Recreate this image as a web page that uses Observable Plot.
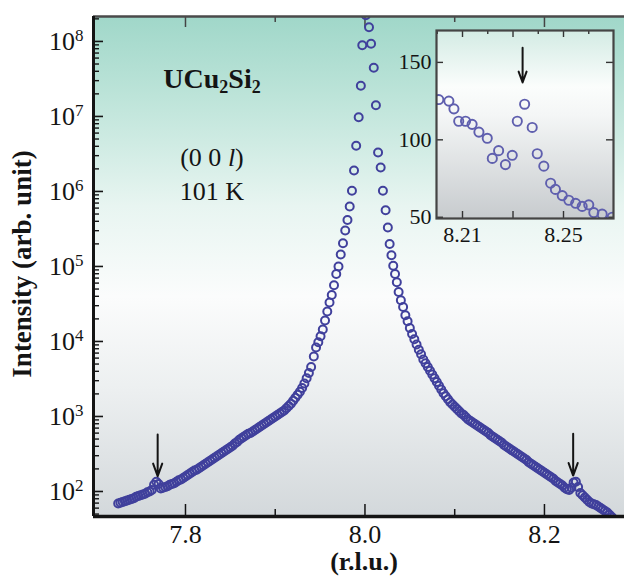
<!DOCTYPE html>
<html><head><meta charset="utf-8">
<script src="https://cdn.jsdelivr.net/npm/d3@7"></script>
<script src="https://cdn.jsdelivr.net/npm/@observablehq/plot@0.6"></script>
<style>
html,body{margin:0;padding:0;background:#fff;}
#chart{position:relative;width:624px;height:577px;overflow:hidden;}
#chart svg{position:absolute;}
</style></head><body><div id="chart"></div>
<script>
// ---- main scan: positions (r.l.u.) and log10 of intensity ----
const mainH = [
7.7250,7.7275,7.7300,7.7325,7.7350,7.7375,7.7400,7.7425,7.7450,7.7475,7.7500,7.7525,7.7550,7.7575,7.7600,7.7625,7.7650,7.7675,7.7700,7.7725,
7.7750,7.7775,7.7800,7.7825,7.7850,7.7875,7.7900,7.7925,7.7950,7.7975,7.8000,7.8025,7.8050,7.8075,7.8100,7.8125,7.8150,7.8175,7.8200,7.8225,
7.8250,7.8275,7.8300,7.8325,7.8350,7.8375,7.8400,7.8425,7.8450,7.8475,7.8500,7.8525,7.8550,7.8575,7.8600,7.8625,7.8650,7.8675,7.8700,7.8725,
7.8750,7.8775,7.8800,7.8825,7.8850,7.8875,7.8900,7.8925,7.8950,7.8975,7.9000,7.9025,7.9050,7.9075,7.9100,7.9125,7.9150,7.9175,7.9200,7.9225,
7.9250,7.9275,7.9300,7.9325,7.9350,7.9375,7.9400,
7.9430,7.9455,7.9480,7.9505,7.9530,7.9555,7.9580,7.9605,7.9630,7.9655,7.9680,7.9705,7.9730,7.9755,7.9780,7.9805,7.9830,7.9855,7.9878,7.9902,
7.9930,7.9954,7.9970,8.0010,
8.0045,8.0068,8.0098,8.0122,8.0146,8.0175,8.0200,8.0230,8.0255,8.0275,8.0295,8.0315,8.0335,8.0355,8.0375,
8.0400,8.0425,8.0450,8.0475,8.0500,8.0525,8.0550,8.0575,8.0600,8.0625,8.0650,8.0675,8.0700,8.0725,8.0750,8.0775,8.0800,8.0825,8.0850,8.0875,
8.0900,8.0925,8.0950,8.0975,8.1000,8.1025,8.1050,8.1075,8.1100,8.1125,8.1150,8.1175,8.1200,8.1225,8.1250,8.1275,8.1300,8.1325,8.1350,8.1375,
8.1400,8.1425,8.1450,8.1475,8.1500,8.1525,8.1550,8.1575,8.1600,8.1625,8.1650,8.1675,8.1700,8.1725,8.1750,8.1775,8.1800,8.1825,8.1850,8.1875,
8.1900,8.1925,8.1950,8.1975,8.2000,8.2025,8.2050,8.2075,8.2100,8.2125,8.2150,8.2175,8.2200,8.2225,8.2250,8.2275,8.2300,8.2325,8.2350,8.2375,
8.2400,8.2425,8.2450,8.2475,8.2500,8.2525,8.2550,8.2575,8.2600,8.2625,8.2650,8.2675,8.2700,8.2725,8.2750,8.2775
];
const mainLogI = [
1.84,1.85,1.86,1.87,1.88,1.89,1.90,1.91,1.93,1.94,1.95,1.96,1.97,1.99,2.00,2.02,2.09,2.13,2.10,2.04,
2.05,2.06,2.07,2.09,2.10,2.11,2.13,2.15,2.16,2.18,2.20,2.22,2.24,2.26,2.28,2.29,2.31,2.33,2.35,2.37,
2.39,2.41,2.43,2.45,2.47,2.49,2.51,2.53,2.55,2.57,2.59,2.61,2.64,2.66,2.69,2.71,2.73,2.75,2.77,2.78,
2.80,2.82,2.84,2.86,2.88,2.90,2.92,2.94,2.96,2.98,3.00,3.02,3.04,3.06,3.08,3.11,3.14,3.17,3.21,3.25,
3.29,3.33,3.38,3.44,3.51,3.58,3.66,
3.80,3.92,3.99,4.07,4.16,4.28,4.40,4.52,4.62,4.75,4.90,5.00,5.16,5.31,5.48,5.62,5.80,6.01,6.28,6.61,
6.99,7.41,7.95,8.35,
8.19,7.97,7.65,7.15,6.52,6.32,6.01,5.75,5.52,5.30,5.15,5.01,4.90,4.79,4.66,
4.55,4.46,4.35,4.27,4.18,4.10,4.03,3.96,3.89,3.83,3.76,3.71,3.66,3.61,3.56,3.51,3.46,3.41,3.36,3.31,
3.27,3.23,3.19,3.16,3.13,3.10,3.07,3.04,3.02,2.99,2.96,2.94,2.92,2.90,2.88,2.86,2.84,2.82,2.80,2.78,
2.75,2.73,2.71,2.69,2.67,2.65,2.62,2.60,2.58,2.56,2.54,2.52,2.50,2.48,2.46,2.44,2.42,2.39,2.37,2.35,
2.33,2.31,2.29,2.27,2.25,2.23,2.21,2.19,2.17,2.14,2.12,2.10,2.08,2.05,2.03,2.02,2.05,2.12,2.13,2.06,
1.98,1.95,1.92,1.89,1.86,1.84,1.83,1.82,1.80,1.78,1.76,1.74,1.72,1.69,1.66,1.63
];

// ---- inset scan (linear intensity) ----
const insetH = [8.2006,8.2046,8.2066,8.2085,8.2112,8.2138,8.2165,8.2198,8.2218,8.2243,8.2270,8.2297,8.2317,8.2346,
8.2376,8.2396,8.2422,8.2449,8.2468,8.2495,8.2521,8.2548,8.2574,8.2600,8.2620,8.2653,8.2693];
const insetI = [126,125,120,112,112,110,105,101,88,93,84,90,112,123,108,91,83,72,68,64,61,59,57,58,53,52,50];

// ---- axes / ticks ----
const xDomain = [7.6975, 8.2892];
const yDomain = [46.4, 2.15e8];
const xTickLabels = [7.8, 8.0, 8.2];
const xMinorTicks = [7.9, 8.1];
const yDecades = [1e2, 1e3, 1e4, 1e5, 1e6, 1e7, 1e8];
const insetXDomain = [8.1997, 8.2698];
const insetYDomain = [49.2, 170.6];
const insetXTickLabels = [8.21, 8.25];
const insetXMajor = [8.21, 8.23, 8.25];
const insetXMinor = [8.20, 8.22, 8.24, 8.26];
const insetYTickLabels = [50, 100, 150];

// ---- arrows marking the weak peaks ----
const arrowH = [7.769, 8.232];
const arrowTail = [575, 590];
const arrowTip = [160, 163];
const insetArrowH = [8.2338];
const insetArrowTail = [159.5];
const insetArrowTip = [137];

const serif = '"Liberation Serif","Times New Roman",serif';
const ink = "#141414";

const yMinor = [];
for (let e = 1; e <= 8; e++) for (let m = 2; m <= 9; m++) {
  const v = m * 10 ** e;
  if (v >= yDomain[0] && v <= yDomain[1]) yMinor.push(v);
}

const mainData = mainH.map((h, i) => ({h, I: 10 ** mainLogI[i]}));
const insetData = insetH.map((h, i) => ({h, I: insetI[i]}));
const arrows = arrowH.map((h, i) => ({h, a: arrowTail[i], b: arrowTip[i]}));
const insetArrows = insetArrowH.map((h, i) => ({h, a: insetArrowTail[i], b: insetArrowTip[i]}));

const W = 624, H = 577, mL = 93, mR = 0, mT = 16, mB = 61;
const fw = W - mL - mR, fh = H - mT - mB;

const main = Plot.plot({
  width: W, height: H, marginLeft: mL, marginRight: mR, marginTop: mT, marginBottom: mB,
  style: {background: "transparent", fontFamily: serif, fontSize: "26px", color: ink},
  x: {domain: xDomain, ticks: xTickLabels, tickSize: 0, tickPadding: 8, tickFormat: ".1f", label: null},
  y: {type: "log", domain: yDomain, ticks: yDecades, tickSize: 0, tickPadding: 10,
      tickFormat: d => "10^" + Math.round(Math.log10(d)), label: null},
  marks: [
    Plot.frame({fill: "url(#mainBg)", stroke: null}),
    Plot.tickX(xTickLabels, {x: d => d, insetTop: fh - 12, stroke: ink, strokeWidth: 1.5}),
    Plot.tickX(xMinorTicks, {x: d => d, insetTop: fh - 7, stroke: ink, strokeWidth: 1.5}),
    Plot.tickX(xTickLabels, {x: d => d, insetBottom: fh - 11, stroke: "#444", strokeWidth: 1.5}),
    Plot.tickX(xMinorTicks, {x: d => d, insetBottom: fh - 6, stroke: "#444", strokeWidth: 1.5}),
    Plot.tickY(yDecades, {y: d => d, insetRight: fw - 10, stroke: ink, strokeWidth: 1.6}),
    Plot.tickY(yMinor, {y: d => d, insetRight: fw - 6, stroke: ink, strokeWidth: 1.4}),
    Plot.dot(mainData, {x: "h", y: "I", r: 4, stroke: "#40409c", strokeWidth: 2, fill: "none", clip: true}),
    Plot.ruleY([yDomain[1]], {stroke: "#4a4a4a", strokeWidth: 2.5}),
    Plot.ruleX([xDomain[0]], {stroke: ink, strokeWidth: 3}),
    Plot.ruleY([yDomain[0]], {stroke: ink, strokeWidth: 3.5}),
    Plot.arrow(arrows, {x: "h", y1: "a", y2: "b", stroke: ink, strokeWidth: 2, headLength: 10, headAngle: 40})
  ]
});

const inset = Plot.plot({
  width: 232, height: 225, marginLeft: 44, marginRight: 11, marginTop: 5, marginBottom: 32,
  style: {background: "transparent", fontFamily: serif, fontSize: "22px", color: ink},
  x: {domain: insetXDomain, ticks: insetXTickLabels, tickSize: 0, tickPadding: 8, tickFormat: ".2f", label: null},
  y: {domain: insetYDomain, ticks: insetYTickLabels, tickSize: 0, tickPadding: 5, label: null},
  marks: [
    Plot.frame({fill: "url(#insetBg)", stroke: null}),
    Plot.tickX(insetXMajor, {x: d => d, insetTop: 188 - 7, stroke: "#333", strokeWidth: 1.4}),
    Plot.tickX(insetXMajor, {x: d => d, insetBottom: 188 - 7, stroke: "#333", strokeWidth: 1.4}),
    Plot.tickX(insetXMinor, {x: d => d, insetBottom: 188 - 4, stroke: "#333", strokeWidth: 1.4}),
    Plot.tickY(insetYTickLabels, {y: d => d, insetRight: 177 - 7, stroke: "#333", strokeWidth: 1.4}),
    Plot.tickY(insetYTickLabels, {y: d => d, insetLeft: 177 - 7, stroke: "#333", strokeWidth: 1.4}),
    Plot.dot(insetData, {x: "h", y: "I", r: 4.6, stroke: "#5f5fae", strokeWidth: 1.9, fill: "none", clip: true}),
    Plot.frame({stroke: "#444", strokeWidth: 2.2}),
    Plot.arrow(insetArrows, {x: "h", y1: "a", y2: "b", stroke: ink, strokeWidth: 2, headLength: 9, headAngle: 40})
  ]
});

const NS = "http://www.w3.org/2000/svg";
function el(tag, attrs, parent) {
  const e = document.createElementNS(NS, tag);
  for (const k in attrs) e.setAttribute(k, attrs[k]);
  if (parent) parent.appendChild(e);
  return e;
}
function gradient(svg, id, stops) {
  const defs = el("defs", {});
  svg.insertBefore(defs, svg.firstChild);
  const g = el("linearGradient", {id, x1: 0, y1: 0, x2: 0, y2: 1}, defs);
  for (const [o, c] of stops) el("stop", {offset: o, "stop-color": c}, g);
}
gradient(main, "mainBg", [[0, "#a0d7c9"], [0.16, "#bde4d9"], [0.38, "#e8f5f1"], [0.56, "#fbfcfc"], [0.75, "#eceff0"], [1, "#d3d8db"]]);
gradient(inset, "insetBg", [[0, "#d3ebe4"], [0.3, "#fbfdfc"], [0.45, "#f4f6f6"], [1, "#c7cbce"]]);

// superscript decade labels
for (const t of main.querySelectorAll("text")) {
  const m = /^10\^(\d+)$/.exec(t.textContent);
  if (!m) continue;
  t.textContent = "";
  el("tspan", {}, t).textContent = "10";
  const s = el("tspan", {"font-size": 17, dy: -9}, t);
  s.textContent = m[1];
}
for (const svg of [main, inset]) for (const t of svg.querySelectorAll("text")) t.setAttribute("fill", ink);

// annotations and axis titles
function txt(parent, attrs, parts) {
  const t = el("text", Object.assign({"font-family": serif, fill: ink}, attrs), parent);
  for (const [s, a] of parts) { const sp = el("tspan", a || {}, t); sp.textContent = s; }
  return t;
}
txt(main, {x: 212, y: 88, "text-anchor": "middle", "font-size": 28, "font-weight": "bold"},
  [["UCu"], ["2", {"font-size": 18, dy: 5}], ["Si", {dy: -5}], ["2", {"font-size": 18, dy: 5}]]);
txt(main, {x: 212, y: 166, "text-anchor": "middle", "font-size": 26},
  [["(0 0 "], ["l", {"font-style": "italic"}], [")"]]);
txt(main, {x: 212, y: 200, "text-anchor": "middle", "font-size": 26}, [["101 K"]]);
txt(main, {x: 364, y: 570, "text-anchor": "middle", "font-size": 26, "font-weight": "bold"}, [["(r.l.u.)"]]);
txt(main, {transform: "translate(31,264) rotate(-90)", "text-anchor": "middle", "font-size": 27, "font-weight": "bold"},
  [["Intensity (arb. unit)"]]);

const box = document.getElementById("chart");
main.style.left = "0px"; main.style.top = "0px";
inset.style.left = "392px"; inset.style.top = "25px";
box.appendChild(main);
box.appendChild(inset);
</script></body></html>
